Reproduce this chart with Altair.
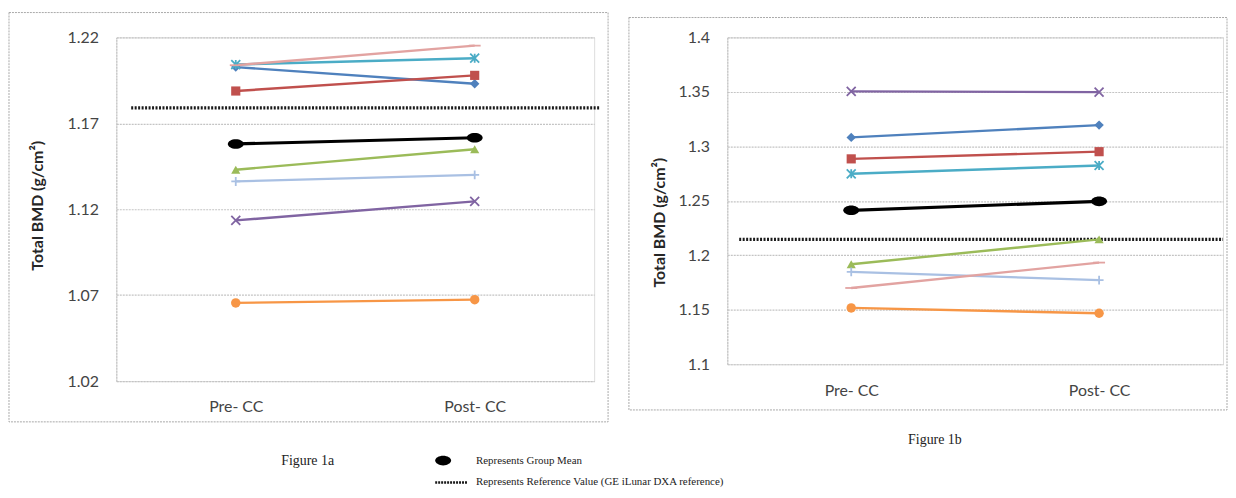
import altair as alt
import pandas as pd

# ---------------- data ----------------
TIMES = ["Pre- CC", "Post- CC"]
SERIES = ["Series 1", "Series 2", "Series 3", "Series 4", "Series 5",
          "Series 6", "Series 7", "Series 8", "Group Mean"]
COLORS = ["#4F81BD", "#C0504D", "#9BBB59", "#8064A2", "#4BACC6",
          "#F79646", "#A9C0E3", "#E2A3A1", "#000000"]

# Figure 1a
LEFT_PRE = [1.2027, 1.1888, 1.1430, 1.1135, 1.2042, 1.0655, 1.1362, 1.2038, 1.1580]
LEFT_POST = [1.1930, 1.1979, 1.1549, 1.1246, 1.2079, 1.0674, 1.1400, 1.2152, 1.1616]
LEFT_REF = 1.179
LEFT_TICKS = [1.02, 1.07, 1.12, 1.17, 1.22]

# Figure 1b
RIGHT_PRE = [1.3082, 1.2885, 1.1918, 1.3505, 1.2748, 1.1517, 1.1848, 1.1700, 1.2413]
RIGHT_POST = [1.3195, 1.2951, 1.2146, 1.3498, 1.2824, 1.1468, 1.1772, 1.1933, 1.2495]
RIGHT_REF = 1.2146
RIGHT_TICKS = [1.1, 1.15, 1.2, 1.25, 1.3, 1.35, 1.4]

Y_TITLE = "Total BMD (g/cm²)"
CAPTION_A = "Figure 1a"
CAPTION_B = "Figure 1b"
LEGEND_MEAN = "Represents Group Mean"
LEGEND_REF = "Represents Reference Value (GE iLunar DXA reference)"

# ---------------- marker styles ----------------
XMARK = "M-1,-1L1,1M1,-1L-1,1"
STAR = "M-1,-1L1,1M1,-1L-1,1M0,-1L0,1"
PLUS = "M-1,0L1,0M0,-1L0,1"
DASH = "M-1,0L1,0"
ELLIPSE = "M-1,0A1,0.6,0,1,1,1,0A1,0.6,0,1,1,-1,0Z"
SHAPES = ["diamond", "square", "triangle-up", XMARK, STAR, "circle", PLUS, DASH, ELLIPSE]
SIZES = [90, 85, 85, 81, 81, 90, 81, 144, 256]
LINE_WIDTHS = [2.4, 2.4, 2.4, 2.4, 2.4, 2.4, 2.4, 2.4, 3.2]
FILLED = ["Series 1", "Series 2", "Series 3", "Series 6", "Group Mean"]
STROKED = ["Series 4", "Series 5", "Series 7", "Series 8"]

AXIS_FONT = "Lato"
CAP_FONT = "Liberation Serif"
GRID = "#c4c4c4"


def make_df(pre, post):
    rows = []
    for s, a, b in zip(SERIES, pre, post):
        rows.append({"series": s, "time": TIMES[0], "value": a})
        rows.append({"series": s, "time": TIMES[1], "value": b})
    return pd.DataFrame(rows)


ONE = pd.DataFrame({"k": [0]})


def panel(pre, post, ref, domain, ticks, fmt, width, height, title_y,
          title_x, ref_x, frame, extras):
    df = make_df(pre, post)
    x = alt.X("time:N", scale=alt.Scale(type="point", domain=TIMES, padding=0.5),
              axis=alt.Axis(title=None, domain=False, ticks=False, grid=False,
                            labelAngle=0, labelPadding=18, labelFont=AXIS_FONT,
                            labelFontSize=16, labelColor="#444444",
                            labelBaseline="top"))
    y = alt.Y("value:Q", scale=alt.Scale(domain=domain, nice=False, zero=False),
              axis=alt.Axis(values=ticks, format=fmt, ticks=False, labelPadding=18,
                            labelFont=AXIS_FONT, labelFontSize=16, labelColor="#444444",
                            grid=True, gridColor=GRID, gridDash=[2, 1], gridWidth=1.2,
                            domain=True, domainColor=GRID, domainDash=[2, 1],
                            domainWidth=1.2,
                            title=Y_TITLE, titleFont=AXIS_FONT, titleFontSize=16,
                            titleFontWeight="bold", titleColor="#262626",
                            titleAngle=270, titleAlign="center",
                            titleBaseline="middle", titleX=title_x, titleY=title_y))
    color = alt.Color("series:N", scale=alt.Scale(domain=SERIES, range=COLORS),
                      legend=None)
    shape = alt.Shape("series:N", scale=alt.Scale(domain=SERIES, range=SHAPES),
                      legend=None)
    size = alt.Size("series:N",
                    scale=alt.Scale(type="ordinal", domain=SERIES, range=SIZES),
                    legend=None)

    fx1, fx2, fy1, fy2 = frame
    frame_layer = alt.Chart(ONE).mark_rect(
        fill=None, stroke="#a8a8a8", strokeWidth=1, strokeDash=[2, 1]
    ).encode(x=alt.value(fx1), x2=alt.value(fx2), y=alt.value(fy1), y2=alt.value(fy2))

    lines = alt.Chart(df).mark_line().encode(
        x=x, y=y, color=color, detail="series:N",
        strokeWidth=alt.StrokeWidth("series:N",
                                    scale=alt.Scale(type="ordinal", domain=SERIES,
                                                    range=LINE_WIDTHS),
                                    legend=None))
    ref_rule = alt.Chart(ONE).mark_rule(
        color="#1a1a1a", strokeWidth=3.2, strokeDash=[2, 1.5]
    ).encode(x=alt.value(ref_x[0]), x2=alt.value(ref_x[1]), y=alt.datum(ref))

    filled = alt.Chart(df).transform_filter(
        alt.FieldOneOfPredicate(field="series", oneOf=FILLED)
    ).mark_point(filled=True, opacity=1).encode(x=x, y=y, color=color,
                                                 shape=shape, size=size)
    stroked = alt.Chart(df).transform_filter(
        alt.FieldOneOfPredicate(field="series", oneOf=STROKED)
    ).mark_point(filled=False, opacity=1, strokeWidth=1.8).encode(
        x=x, y=y, color=color, shape=shape, size=size)

    layers = [frame_layer, ref_rule, lines, filled, stroked] + extras
    return alt.layer(*layers).properties(width=width, height=height)


# ---------------- annotations ----------------
def text_at(txt, px, py, size=13, font=CAP_FONT, color="#222222"):
    return alt.Chart(ONE).mark_text(
        align="left", baseline="middle", font=font, fontSize=size, color=color
    ).encode(x=alt.value(px), y=alt.value(py), text=alt.value(txt))


anchor = alt.Chart(ONE).mark_rect(fill="white", stroke=None).encode(
    x=alt.value(-108), x2=alt.value(-100), y=alt.value(-27), y2=alt.value(-26))

legend_dot = alt.Chart(ONE).mark_point(
    shape=ELLIPSE, filled=True, size=256, color="black", opacity=1
).encode(x=alt.value(329), y=alt.value(426))

legend_line = alt.Chart(ONE).mark_rule(
    color="#1a1a1a", strokeWidth=2.5, strokeDash=[2, 1]
).encode(x=alt.value(321), x2=alt.value(354), y=alt.value(448))

left_extras = [
    anchor,
    text_at(CAPTION_A, 166, 426, size=14),
    legend_dot,
    text_at(LEGEND_MEAN, 362, 426, size=11),
    legend_line,
    text_at(LEGEND_REF, 362, 448, size=11),
]

right_extras = [
    text_at(CAPTION_B, 182, 405, size=14),
]

left = panel(LEFT_PRE, LEFT_POST, LEFT_REF, [1.02, 1.22], LEFT_TICKS, ".2f",
             481, 346, title_y=169, title_x=-79, ref_x=(15, 486),
             frame=(-108, 495, -25, 387), extras=left_extras)

right = panel(RIGHT_PRE, RIGHT_POST, RIGHT_REF, [1.1, 1.4], RIGHT_TICKS, ".2~f",
              499, 329, title_y=186, title_x=-68, ref_x=(12, 499),
              frame=(-99, 503, -20, 375), extras=right_extras)

chart = alt.hconcat(left, right, spacing=134, bounds="flush").properties(
    padding=0
).configure_view(stroke=None).configure(background="white")

chart.save("out.html", embed_options={"renderer": "svg", "actions": False})
